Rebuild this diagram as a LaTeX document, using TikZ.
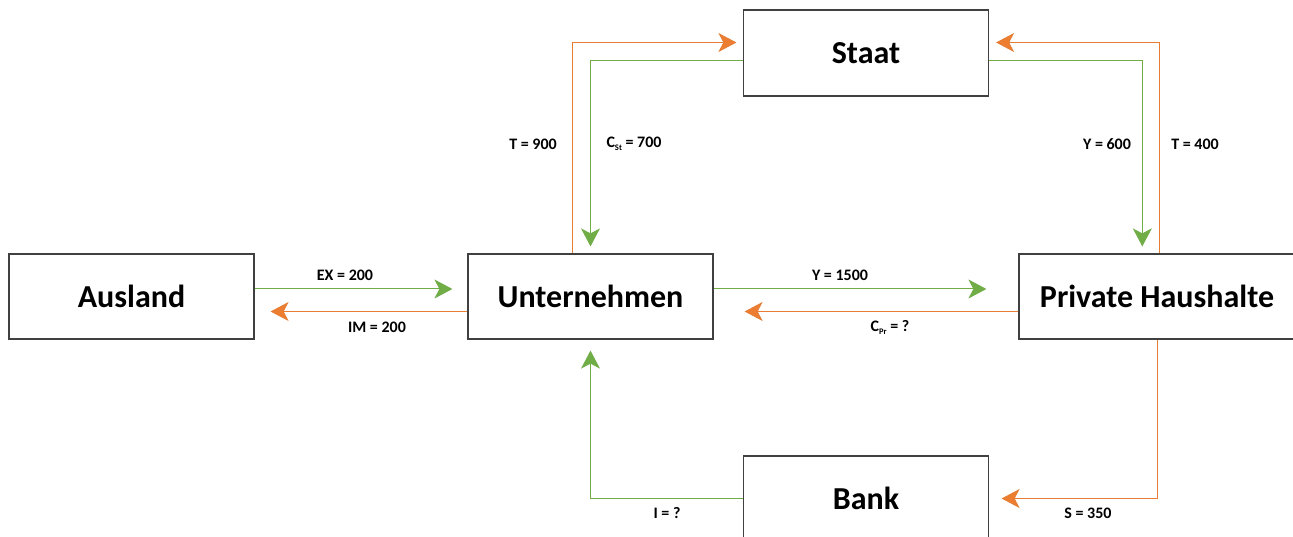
\documentclass[tikz,border=0pt]{standalone}
\usepackage{fontspec}
\setmainfont{Carlito}
\usetikzlibrary{arrows.meta,calc}
\definecolor{grn}{HTML}{70AD47}
\definecolor{org}{HTML}{ED7D31}
\newcommand{\mysub}[1]{\raisebox{-3pt}{\fontsize{8.5}{9}\selectfont #1}}
\begin{document}
\begin{tikzpicture}[x=1pt,y=-1pt,
  box/.style={draw=black!75,line width=1.2pt,minimum width=245pt,minimum height=85pt,
    font=\fontsize{32}{34}\selectfont\bfseries,inner sep=0pt},
  gflow/.style={draw=grn,line width=1pt,-{Stealth[length=18pt,width=19pt,inset=5pt,fill=grn]}},
  oflow/.style={draw=org!85!brown,line width=0.9pt,-{Stealth[length=18pt,width=19pt,inset=5pt,fill=org]}},
  lbl/.style={font=\fontsize{16}{18}\selectfont\bfseries,inner sep=0pt}]
\useasboundingbox (0,0) rectangle (1293,537);
\fill[white] (0,0) rectangle (1293,537);

\node[box] (aus) at (131.5,296.5) {Ausland};
\node[box] (unt) at (590.5,296.5) {Unternehmen};
\node[box,minimum width=276pt] (ph) at (1157,296.5) {Private Haushalte};
\node[box,minimum height=86pt] (stt) at (866,53) {Staat};
\node[box] (bank) at (866,498.5) {Bank};

% Staat connections
\draw[oflow,shorten >=6.5pt] ($(unt.north)+(-18,0)$) |- ($(stt.west)+(0,-10.5)$);
\draw[gflow,shorten >=7pt] ($(stt.west)+(0,7.5)$) -| (unt.north);
\draw[gflow,shorten >=7pt] ($(stt.east)+(0,7.5)$) -| ($(ph.north)+(-14.7,0)$);
\draw[oflow,shorten >=7pt] ($(ph.north)+(2,0)$) |- ($(stt.east)+(0,-10.5)$);

% horizontal flows
\draw[gflow,shorten >=15pt] ($(aus.east)+(0,-7.5)$) -- ($(unt.west)+(0,-7.5)$);
\draw[oflow,shorten >=16pt] ($(unt.west)+(0,15)$) -- ($(aus.east)+(0,15)$);
\draw[gflow,shorten >=32pt] ($(unt.east)+(0,-7.5)$) -- ($(ph.west)+(0,-7.5)$);
\draw[oflow,shorten >=31pt] ($(ph.west)+(0,15)$) -- ($(unt.east)+(0,15)$);

% Bank connections
\draw[gflow,shorten >=11pt] (bank.west) -| (unt.south);
\draw[oflow,shorten >=12.5pt] (ph.south) |- (bank.east);

% labels
\node[lbl] (lt900) at (533,144) {T = 900};
\node[lbl] (lcst) at (634,144) {C\mysub{St} = 700};
\node[lbl] (ly600) at (1107,144) {Y = 600};
\node[lbl] (lt400) at (1195,144) {T = 400};
\node[lbl] (lex) at (345,275) {EX = 200};
\node[lbl] (lim) at (377,327) {IM = 200};
\node[lbl] (ly1500) at (840,275) {Y = 1500};
\node[lbl] (lcpr) at (890,327) {C\mysub{Pr} = ?};
\node[lbl] (li) at (667,513) {I = ?};
\node[lbl] (ls) at (1088,513) {S = 350};
\end{tikzpicture}
\end{document}
